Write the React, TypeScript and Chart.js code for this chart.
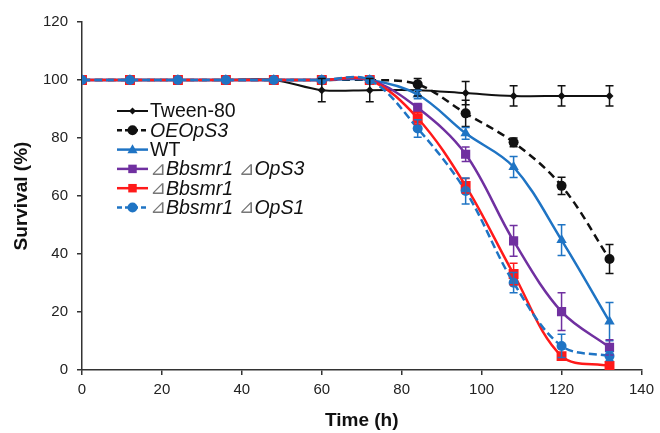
import React, { useEffect, useRef } from 'react';
import { Chart, registerables } from 'chart.js';

Chart.register(...registerables);

const times = [0, 12, 24, 36, 48, 60, 72, 84, 96, 108, 120, 132];

const tween = [100, 100, 100, 100, 100, 96.5, 96.5, 96.5, 95.5, 94.5, 94.5, 94.5];
const tweenErr = [0, 0, 0, 0, 0, 4, 4, 2, 4, 3.5, 3.5, 3.5];
const oeops3 = [100, 100, 100, 100, 100, 100, 100, 98.5, 88.5, 78.5, 63.5, 38.3];
const oeops3Err = [0, 0, 0, 0, 0, 0, 0, 2, 4.5, 1.5, 3, 5];
const wt = [100, 100, 100, 100, 100, 100, 100, 95, 81.6, 70, 44.8, 16.7];
const wtErr = [0, 0, 0, 0, 0, 0, 0, 1.5, 2, 3.6, 5.3, 6.6];
const dSmrOps3 = [100, 100, 100, 100, 100, 100, 100, 90.4, 74.4, 44.5, 20.1, 7.8];
const dSmrOps3Err = [0, 0, 0, 0, 0, 0, 0, 1.5, 2.5, 5.3, 6.5, 2.6];
const dSmr = [100, 100, 100, 100, 100, 100, 100, 86.8, 63.5, 33.1, 4.8, 1.4];
const dSmrErr = [0, 0, 0, 0, 0, 0, 0, 2, 2.5, 3.7, 1, 0.5];
const dSmrOps1 = [100, 100, 100, 100, 100, 100, 100, 83.3, 61.7, 30.1, 8.3, 4.8];
const dSmrOps1Err = [0, 0, 0, 0, 0, 0, 0, 3, 4.5, 3.5, 4, 1.5];

const xTicks = [0, 20, 40, 60, 80, 100, 120, 140];
const yTicks = [0, 20, 40, 60, 80, 100, 120];

const BLACK = '#111111';
const BLUE = '#1f74c4';
const PURPLE = '#7030a0';
const RED = '#ff1a1a';
const FONT = "'Liberation Sans', Arial, sans-serif";

type Seg = { t: string; italic?: boolean; tri?: boolean };
type Series = {
  name: Seg[];
  values: number[];
  errors: number[];
  color: string;
  dash: number[];
  marker: string;
  radius: number;
  width: number;
  order: number;
};

const TRI = '\u22BF';

const series: Series[] = [
  { name: [{ t: 'Tween-80' }], values: tween, errors: tweenErr, color: BLACK, dash: [], marker: 'rectRot', radius: 4, width: 2, order: 5 },
  { name: [{ t: 'OEOpS3', italic: true }], values: oeops3, errors: oeops3Err, color: BLACK, dash: [8, 5], marker: 'circle', radius: 5, width: 2.5, order: 4 },
  { name: [{ t: 'WT' }], values: wt, errors: wtErr, color: BLUE, dash: [], marker: 'triangle', radius: 6, width: 2.5, order: 3 },
  { name: [{ t: TRI, tri: true }, { t: 'Bbsmr1', italic: true }, { t: ' ' }, { t: TRI, tri: true }, { t: 'OpS3', italic: true }], values: dSmrOps3, errors: dSmrOps3Err, color: PURPLE, dash: [], marker: 'rect', radius: 6.5, width: 2.5, order: 2 },
  { name: [{ t: TRI, tri: true }, { t: 'Bbsmr1', italic: true }], values: dSmr, errors: dSmrErr, color: RED, dash: [], marker: 'rect', radius: 7, width: 2.5, order: 1 },
  { name: [{ t: TRI, tri: true }, { t: 'Bbsmr1', italic: true }, { t: ' ' }, { t: TRI, tri: true }, { t: 'OpS1', italic: true }], values: dSmrOps1, errors: dSmrOps1Err, color: BLUE, dash: [8, 4], marker: 'circle', radius: 5, width: 2.5, order: 0 },
];

function drawMarker(ctx: CanvasRenderingContext2D, style: string, x: number, y: number, r: number, color: string) {
  ctx.save();
  ctx.setLineDash([]);
  ctx.fillStyle = color;
  ctx.beginPath();
  if (style === 'circle') {
    ctx.arc(x, y, r, 0, Math.PI * 2);
  } else if (style === 'rect') {
    const s = r * Math.SQRT1_2;
    ctx.rect(x - s, y - s, 2 * s, 2 * s);
  } else if (style === 'triangle') {
    const h = r * 1.5;
    ctx.moveTo(x, y - h * 0.6);
    ctx.lineTo(x + r * 0.85, y + h * 0.4);
    ctx.lineTo(x - r * 0.85, y + h * 0.4);
    ctx.closePath();
  } else {
    ctx.moveTo(x, y - r);
    ctx.lineTo(x + r, y);
    ctx.lineTo(x, y + r);
    ctx.lineTo(x - r, y);
    ctx.closePath();
  }
  ctx.fill();
  ctx.restore();
}

const errorBarPlugin = {
  id: 'errorBars',
  afterDatasetsDraw(chart: any) {
    const { ctx } = chart;
    const xs = chart.scales.x;
    const ys = chart.scales.y;
    ctx.save();
    ctx.lineWidth = 1.5;
    ctx.setLineDash([]);
    [...series].sort((a, b) => b.order - a.order).forEach((s) => {
      ctx.strokeStyle = s.color;
      s.values.forEach((v, j) => {
        const e = s.errors[j];
        if (!e) return;
        const px = xs.getPixelForValue(times[j]);
        const t = ys.getPixelForValue(v + e);
        const b = ys.getPixelForValue(v - e);
        ctx.beginPath();
        ctx.moveTo(px, t);
        ctx.lineTo(px, b);
        ctx.moveTo(px - 4, t);
        ctx.lineTo(px + 4, t);
        ctx.moveTo(px - 4, b);
        ctx.lineTo(px + 4, b);
        ctx.stroke();
      });
    });
    ctx.restore();
  },
};

const legendPlugin = {
  id: 'customLegend',
  afterDraw(chart: any) {
    const { ctx } = chart;
    const x0 = 117;
    const x1 = 148;
    const textX = 150;
    const y0 = 111;
    const step = 19.3;
    ctx.save();
    series.forEach((s, i) => {
      const y = y0 + i * step;
      ctx.strokeStyle = s.color;
      ctx.lineWidth = s.width;
      ctx.setLineDash(s.dash.length ? [5, 3] : []);
      ctx.beginPath();
      ctx.moveTo(x0, y);
      ctx.lineTo(x1, y);
      ctx.stroke();
      drawMarker(ctx, s.marker, (x0 + x1) / 2, y, s.marker === 'rectRot' ? 3.5 : Math.min(s.radius, 6), s.color);
      let tx = textX;
      ctx.textBaseline = 'middle';
      ctx.textAlign = 'left';
      s.name.forEach((seg) => {
        if (seg.tri) {
          ctx.font = `19px 'DejaVu Sans', ${FONT}`;
          ctx.fillStyle = '#777777';
        } else {
          ctx.font = `${seg.italic ? 'italic ' : ''}19.5px ${FONT}`;
          ctx.fillStyle = '#111111';
        }
        ctx.fillText(seg.t, tx, y + 1);
        tx += ctx.measureText(seg.t).width;
      });
    });
    ctx.restore();
  },
};

export default function App() {
  const ref = useRef<HTMLCanvasElement | null>(null);

  useEffect(() => {
    if (!ref.current) return;
    const chart = new Chart(ref.current, {
      type: 'line',
      data: {
        datasets: series.map((s) => ({
          label: s.name.map((g) => g.t).join(''),
          data: times.map((t, j) => ({ x: t, y: s.values[j] })),
          borderColor: s.color,
          backgroundColor: s.color,
          borderWidth: s.width,
          borderDash: s.dash,
          pointStyle: s.marker as any,
          pointRadius: s.radius,
          pointBorderWidth: 0,
          pointBackgroundColor: s.color,
          pointBorderColor: s.color,
          tension: 0.35,
          order: s.order,
          fill: false,
        })),
      },
      options: {
        animation: false,
        responsive: false,
        maintainAspectRatio: false,
        layout: { padding: { top: 22, right: 15, left: 0, bottom: 0 } },
        plugins: {
          legend: { display: false },
          tooltip: { enabled: false },
        },
        scales: {
          x: {
            type: 'linear',
            min: 0,
            max: 140,
            afterBuildTicks: (axis: any) => {
              axis.ticks = xTicks.map((v) => ({ value: v }));
            },
            afterFit: (axis: any) => {
              axis.height = 63;
            },
            border: { color: '#333333', width: 1.5 },
            grid: { display: true, drawOnChartArea: false, drawTicks: true, tickLength: 5, color: '#333333', lineWidth: 1.5 },
            ticks: { font: { family: FONT, size: 15 }, color: '#222222', padding: 6, maxRotation: 0 },
            title: { display: true, text: 'Time (h)', font: { family: FONT, size: 19, weight: 'bold' }, color: '#111111', padding: { top: 0, bottom: 1 } },
          },
          y: {
            type: 'linear',
            min: 0,
            max: 120,
            afterBuildTicks: (axis: any) => {
              axis.ticks = yTicks.map((v) => ({ value: v }));
            },
            afterFit: (axis: any) => {
              axis.width = 82;
            },
            border: { color: '#333333', width: 1.5 },
            grid: { display: true, drawOnChartArea: false, drawTicks: true, tickLength: 5, color: '#333333', lineWidth: 1.5 },
            ticks: { font: { family: FONT, size: 15 }, color: '#222222', padding: 9 },
            title: { display: true, text: 'Survival (%)', font: { family: FONT, size: 19, weight: 'bold' }, color: '#111111', padding: { top: 10, bottom: 0 } },
          },
        },
      },
      plugins: [errorBarPlugin, legendPlugin],
    } as any);
    return () => chart.destroy();
  }, []);

  return (
    <div style={{ position: 'fixed', left: 0, top: 0, width: 660, height: 433, background: '#ffffff' }}>
      <canvas ref={ref} width={660} height={433} style={{ display: 'block' }} />
    </div>
  );
}
